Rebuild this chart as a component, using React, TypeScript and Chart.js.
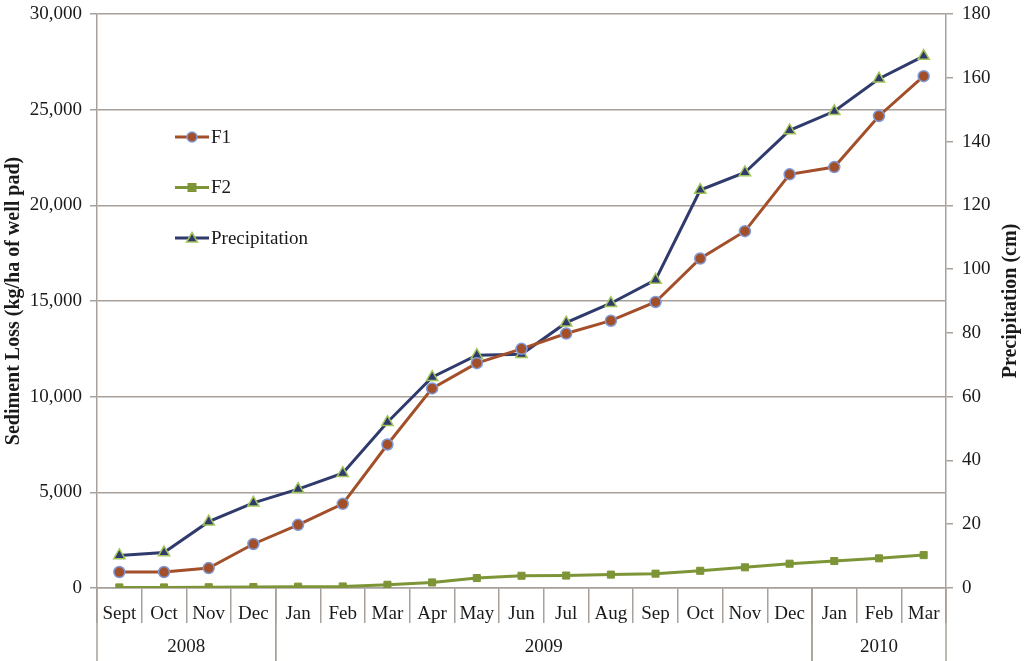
import React, { useEffect, useRef } from 'react';
import { Chart, registerables } from 'chart.js';

Chart.register(...registerables);

// month labels along the x axis
const months = ['Sept', 'Oct', 'Nov', 'Dec', 'Jan', 'Feb', 'Mar', 'Apr', 'May', 'Jun', 'Jul', 'Aug', 'Sep', 'Oct', 'Nov', 'Dec', 'Jan', 'Feb', 'Mar'];
// second row of the x axis
const years = ['2008', '2009', '2010'];
const yearSpans = [4, 12, 3];

// cumulative sediment loss (kg/ha of well pad)
const f1 = [835, 835, 1040, 2300, 3300, 4400, 7500, 10430, 11750, 12500, 13300, 13970, 14950, 17220, 18650, 21620, 22000, 24670, 26750];
const f2 = [30, 30, 40, 50, 70, 80, 170, 290, 520, 640, 650, 700, 750, 900, 1080, 1270, 1410, 1550, 1720];
// cumulative precipitation (cm)
const precip = [10.2, 11.1, 20.8, 26.7, 31, 36, 52, 66.1, 73, 73.3, 83.2, 89.3, 96.6, 124.8, 130.3, 143.5, 149.5, 159.7, 166.8];

const FONT = '"Liberation Serif", "Times New Roman", serif';
const GRID = '#a8a09a';
const TEXT = '#1a1a1a';

const F1_COLOR = '#a24f2a';
const F1_BORDER = '#7f9ad8';
const F2_COLOR = '#7d9537';
const P_COLOR = '#2f3b6c';
const P_BORDER = '#a3c45a';

// year row below the month labels
const yearRowPlugin = {
  id: 'yearRow',
  afterDraw(chart: any) {
    const { ctx, chartArea } = chart;
    const x = chart.scales.x;
    const half = (x.getPixelForValue(1) - x.getPixelForValue(0)) / 2;
    ctx.save();
    ctx.strokeStyle = GRID;
    ctx.lineWidth = 1.5;
    ctx.fillStyle = TEXT;
    ctx.font = `19px ${FONT}`;
    ctx.textAlign = 'center';
    ctx.textBaseline = 'middle';
    let start = 0;
    years.forEach((yr, i) => {
      const end = start + yearSpans[i];
      const x0 = x.getPixelForValue(start) - half;
      const x1 = x.getPixelForValue(end - 1) + half;
      [x0, x1].forEach((px) => {
        ctx.beginPath();
        ctx.moveTo(px, chartArea.bottom);
        ctx.lineTo(px, chart.height);
        ctx.stroke();
      });
      ctx.fillText(yr, (x0 + x1) / 2, chartArea.bottom + 59);
      start = end;
    });
    ctx.restore();
  },
};

// right axis title, read from bottom to top
const rightTitlePlugin = {
  id: 'rightTitle',
  afterDraw(chart: any) {
    const { ctx, chartArea } = chart;
    ctx.save();
    ctx.translate(1011, (chartArea.top + chartArea.bottom) / 2);
    ctx.rotate(-Math.PI / 2);
    ctx.fillStyle = TEXT;
    ctx.font = `bold 20px ${FONT}`;
    ctx.textAlign = 'center';
    ctx.textBaseline = 'middle';
    ctx.fillText('Precipitation (cm)', 0, 0);
    ctx.restore();
  },
};

// legend drawn inside the plot, one item per row
const innerLegendPlugin = {
  id: 'innerLegend',
  afterDraw(chart: any) {
    const { ctx, chartArea } = chart;
    ctx.save();
    chart.data.datasets.forEach((ds: any, i: number) => {
      const y = chartArea.top + 123 + i * 50.5;
      const x0 = chartArea.left + 78;
      ctx.strokeStyle = ds.borderColor;
      ctx.lineWidth = 3;
      ctx.beginPath();
      ctx.moveTo(x0, y);
      ctx.lineTo(x0 + 34, y);
      ctx.stroke();
      ctx.fillStyle = ds.pointBackgroundColor;
      ctx.strokeStyle = ds.pointBorderColor;
      ctx.lineWidth = 1.5;
      const cx = x0 + 17;
      ctx.beginPath();
      if (ds.pointStyle === 'rect') {
        ctx.rect(cx - 4.5, y - 4.5, 9, 9);
        ctx.fill();
      } else if (ds.pointStyle === 'triangle') {
        ctx.moveTo(cx, y - 5.5);
        ctx.lineTo(cx + 5.5, y + 4);
        ctx.lineTo(cx - 5.5, y + 4);
        ctx.closePath();
        ctx.fill();
        ctx.stroke();
      } else {
        ctx.arc(cx, y, 5, 0, Math.PI * 2);
        ctx.fill();
        ctx.stroke();
      }
      ctx.fillStyle = TEXT;
      ctx.font = `19px ${FONT}`;
      ctx.textAlign = 'left';
      ctx.textBaseline = 'middle';
      ctx.fillText(ds.label, x0 + 36, y + 1);
    });
    ctx.restore();
  },
};

// the y axes should not push the plot down for their top label
const noVerticalPadding = (scale: any, width: number) => {
  scale.width = width;
  scale.paddingTop = 0;
  scale.paddingBottom = 0;
};

const App: React.FC = () => {
  const canvasRef = useRef<HTMLCanvasElement | null>(null);
  const chartRef = useRef<Chart | null>(null);

  useEffect(() => {
    if (!canvasRef.current) return;
    if (chartRef.current) chartRef.current.destroy();

    chartRef.current = new Chart(canvasRef.current, {
      type: 'line',
      data: {
        labels: months,
        datasets: [
          {
            label: 'F1',
            data: f1,
            yAxisID: 'y',
            borderColor: F1_COLOR,
            backgroundColor: F1_COLOR,
            pointBackgroundColor: F1_COLOR,
            pointBorderColor: F1_BORDER,
            pointBorderWidth: 1.5,
            pointStyle: 'circle',
            pointRadius: 5.5,
            borderWidth: 3,
          },
          {
            label: 'F2',
            data: f2,
            yAxisID: 'y',
            borderColor: F2_COLOR,
            backgroundColor: F2_COLOR,
            pointBackgroundColor: F2_COLOR,
            pointBorderColor: F2_COLOR,
            pointBorderWidth: 1,
            pointStyle: 'rect',
            pointRadius: 5,
            borderWidth: 3,
          },
          {
            label: 'Precipitation',
            data: precip,
            yAxisID: 'y1',
            borderColor: P_COLOR,
            backgroundColor: P_COLOR,
            pointBackgroundColor: P_COLOR,
            pointBorderColor: P_BORDER,
            pointBorderWidth: 1.5,
            pointStyle: 'triangle',
            pointRadius: 6.5,
            borderWidth: 3,
          },
        ],
      },
      options: {
        responsive: true,
        maintainAspectRatio: false,
        animation: false,
        layout: { padding: { top: 14, left: 0, right: 0, bottom: 0 } },
        plugins: {
          legend: { display: false },
          tooltip: { enabled: false },
        },
        scales: {
          x: {
            offset: true,
            grid: {
              offset: true,
              drawOnChartArea: false,
              drawTicks: true,
              tickLength: 35,
              color: GRID,
              lineWidth: 1.5,
            },
            border: { display: true, color: GRID, width: 1.5 },
            ticks: {
              color: TEXT,
              font: { family: FONT, size: 19 },
              padding: -20,
              autoSkip: false,
              maxRotation: 0,
            },
            afterFit: (scale: any) => {
              scale.height = 73;
            },
          },
          y: {
            position: 'left',
            min: 0,
            max: 30000,
            ticks: {
              stepSize: 5000,
              color: TEXT,
              font: { family: FONT, size: 19 },
              padding: 8,
              callback: (v: any) => Number(v).toLocaleString('en-US'),
            },
            grid: { color: GRID, lineWidth: 1.5, tickLength: 7 },
            border: { display: true, color: GRID, width: 1.5 },
            title: {
              display: true,
              text: 'Sediment Loss (kg/ha of well pad)',
              color: TEXT,
              font: { family: FONT, size: 20, weight: 'bold' },
              padding: { top: 2, bottom: 2 },
            },
            afterFit: (scale: any) => noVerticalPadding(scale, 97),
          },
          y1: {
            position: 'right',
            min: 0,
            max: 180,
            ticks: {
              stepSize: 20,
              color: TEXT,
              font: { family: FONT, size: 19 },
              padding: 9,
            },
            grid: { drawOnChartArea: false, color: GRID, lineWidth: 1.5, tickLength: 7 },
            border: { display: true, color: GRID, width: 1.5 },
            afterFit: (scale: any) => noVerticalPadding(scale, 78),
          },
        },
      } as any,
      plugins: [yearRowPlugin, rightTitlePlugin, innerLegendPlugin],
    });

    return () => {
      if (chartRef.current) {
        chartRef.current.destroy();
        chartRef.current = null;
      }
    };
  }, []);

  return (
    <div style={{ position: 'fixed', left: 0, top: 0, width: 1024, height: 661, background: '#fff' }}>
      <canvas ref={canvasRef} />
    </div>
  );
};

export default App;
